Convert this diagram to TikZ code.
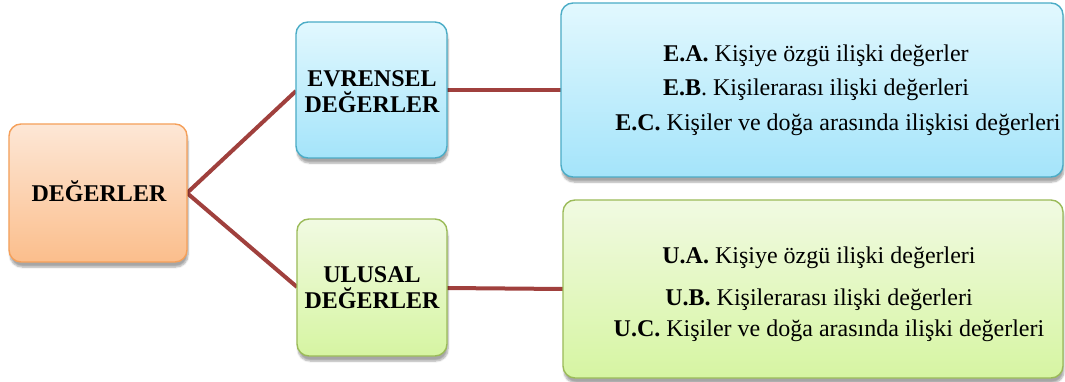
\documentclass[tikz,border=0pt]{standalone}
\usepackage{fontspec}
\setmainfont{Liberation Serif}
\usetikzlibrary{shadows.blur}
\definecolor{obord}{HTML}{F5A05A}
\definecolor{otop}{HTML}{FDE7D6}
\definecolor{obot}{HTML}{FBBE8C}
\definecolor{bbord}{HTML}{4BACC6}
\definecolor{btop}{HTML}{E2F8FE}
\definecolor{bbot}{HTML}{A4E4FA}
\definecolor{gbord}{HTML}{9BBB59}
\definecolor{gtop}{HTML}{F1FAE2}
\definecolor{gbot}{HTML}{D6F5A2}
\definecolor{conn}{HTML}{A0403D}
\tikzset{
  box/.style={rounded corners=12pt, line width=1.4pt, inner sep=0pt,
    blur shadow={shadow xshift=1pt, shadow yshift=-5pt, shadow blur steps=6, shadow opacity=35}},
  obox/.style={box, draw=obord, top color=otop, bottom color=obot},
  bbox/.style={box, draw=bbord, top color=btop, bottom color=bbot},
  gbox/.style={box, draw=gbord, top color=gtop, bottom color=gbot},
  head/.style={font=\fontsize{24}{26}\selectfont\bfseries, align=center, inner sep=0pt},
  body/.style={font=\fontsize{24}{34.5}\selectfont, align=center, inner sep=0pt},
  link/.style={draw=conn, line width=4pt},
}
\begin{document}
\begin{tikzpicture}[x=1pt,y=-1pt]
\useasboundingbox (0,0) rectangle (1065,382);
\draw[link] (187,193) coordinate (ds) -- (296,91) coordinate (ev);
\draw[link] (ds) -- (297,287) coordinate (ul);
\draw[link] (447,90) coordinate (evr) -- (561,90) coordinate (el);
\draw[link] (447,288) coordinate (ulr) -- (563,289) coordinate (ull);
\node[obox, minimum width=178pt, minimum height=138pt] (D) at (98,193) {};
\node[bbox, minimum width=151pt, minimum height=136pt] (EV) at (371.5,90) {};
\node[gbox, minimum width=150pt, minimum height=137pt] (UL) at (372,287.5) {};
\node[bbox, minimum width=502pt, minimum height=174pt] (E) at (812,90) {};
\node[gbox, minimum width=500pt, minimum height=178pt] (U) at (813,289) {};
\node[head, anchor=base] (Dt) at (99,201) {DEĞERLER};
\node[head] (EVt) at (372,92) {EVRENSEL\\DEĞERLER};
\node[head] (ULt) at (372,288) {ULUSAL\\DEĞERLER};
\node[body] (Et) at (816,90) {\textbf{E.A.} Kişiye özgü ilişki değerler\\
\textbf{E.B}. Kişilerarası ilişki değerleri\\
\hspace*{44pt}\textbf{E.C.} Kişiler ve doğa arasında ilişkisi değerleri};
\node[body, font=\fontsize{24}{31}\selectfont] (Ut) at (819,294) {\textbf{U.A.} Kişiye özgü ilişki değerleri\\[11pt]
\textbf{U.B.} Kişilerarası ilişki değerleri\\
\hspace*{20pt}\textbf{U.C.} Kişiler ve doğa arasında ilişki değerleri};
\end{tikzpicture}
\end{document}
